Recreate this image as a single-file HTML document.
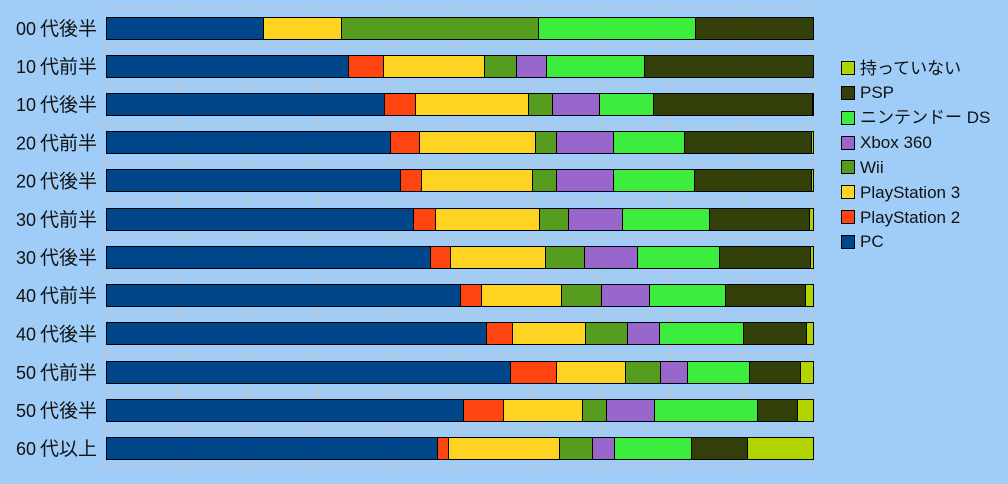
<!DOCTYPE html>
<html><head><meta charset="utf-8"><style>
html,body{margin:0;padding:0;background:#a0cdf7;}
svg{display:block;}
text{font-family:"Liberation Sans","Noto Sans CJK JP",sans-serif;fill:#111;}
</style></head><body>
<svg width="1008" height="484" viewBox="0 0 1008 484" xmlns="http://www.w3.org/2000/svg">
<rect width="1008" height="484" fill="#a0cdf7"/>
<g stroke="#bcc4cc" stroke-width="1">
<line x1="106.5" y1="9" x2="106.5" y2="468"/>
<line x1="177" y1="9" x2="177" y2="468"/>
<line x1="247.5" y1="9" x2="247.5" y2="468"/>
<line x1="318.5" y1="9" x2="318.5" y2="468"/>
<line x1="389" y1="9" x2="389" y2="468"/>
<line x1="459.5" y1="9" x2="459.5" y2="468"/>
<line x1="530.5" y1="9" x2="530.5" y2="468"/>
<line x1="601" y1="9" x2="601" y2="468"/>
<line x1="671.5" y1="9" x2="671.5" y2="468"/>
<line x1="742.5" y1="9" x2="742.5" y2="468"/>
<line x1="813" y1="9" x2="813" y2="468"/>
<line x1="100" y1="9.5" x2="813" y2="9.5"/>
<line x1="100" y1="47.5" x2="813" y2="47.5"/>
<line x1="100" y1="85.5" x2="813" y2="85.5"/>
<line x1="100" y1="124.5" x2="813" y2="124.5"/>
<line x1="100" y1="162.5" x2="813" y2="162.5"/>
<line x1="100" y1="200.5" x2="813" y2="200.5"/>
<line x1="100" y1="238.5" x2="813" y2="238.5"/>
<line x1="100" y1="276.5" x2="813" y2="276.5"/>
<line x1="100" y1="315.5" x2="813" y2="315.5"/>
<line x1="100" y1="353.5" x2="813" y2="353.5"/>
<line x1="100" y1="391.5" x2="813" y2="391.5"/>
<line x1="100" y1="429.5" x2="813" y2="429.5"/>
<line x1="100" y1="467.5" x2="813" y2="467.5"/>
</g>
<g stroke="#000" stroke-width="1">
<g transform="translate(0,17.5)">
<rect x="106.5" y="0" width="157" height="22" fill="#00468a"/>
<rect x="263.5" y="0" width="78" height="22" fill="#ffd322"/>
<rect x="341.5" y="0" width="197" height="22" fill="#559c1f"/>
<rect x="538.5" y="0" width="157" height="22" fill="#3ded3d"/>
<rect x="695.5" y="0" width="118" height="22" fill="#333f08"/>
</g>
<g transform="translate(0,55.5)">
<rect x="106.5" y="0" width="242" height="22" fill="#00468a"/>
<rect x="348.5" y="0" width="35" height="22" fill="#ff4411"/>
<rect x="383.5" y="0" width="101" height="22" fill="#ffd322"/>
<rect x="484.5" y="0" width="32" height="22" fill="#559c1f"/>
<rect x="516.5" y="0" width="30" height="22" fill="#9966cc"/>
<rect x="546.5" y="0" width="98" height="22" fill="#3ded3d"/>
<rect x="644.5" y="0" width="169" height="22" fill="#333f08"/>
</g>
<g transform="translate(0,93.5)">
<rect x="106.5" y="0" width="278" height="22" fill="#00468a"/>
<rect x="384.5" y="0" width="31" height="22" fill="#ff4411"/>
<rect x="415.5" y="0" width="113" height="22" fill="#ffd322"/>
<rect x="528.5" y="0" width="24" height="22" fill="#559c1f"/>
<rect x="552.5" y="0" width="47" height="22" fill="#9966cc"/>
<rect x="599.5" y="0" width="54" height="22" fill="#3ded3d"/>
<rect x="653.5" y="0" width="159" height="22" fill="#333f08"/>
<rect x="812.5" y="0" width="1" height="22" fill="#b2d400"/>
</g>
<g transform="translate(0,131.5)">
<rect x="106.5" y="0" width="284" height="22" fill="#00468a"/>
<rect x="390.5" y="0" width="29" height="22" fill="#ff4411"/>
<rect x="419.5" y="0" width="116" height="22" fill="#ffd322"/>
<rect x="535.5" y="0" width="21" height="22" fill="#559c1f"/>
<rect x="556.5" y="0" width="57" height="22" fill="#9966cc"/>
<rect x="613.5" y="0" width="71" height="22" fill="#3ded3d"/>
<rect x="684.5" y="0" width="127" height="22" fill="#333f08"/>
<rect x="811.5" y="0" width="2" height="22" fill="#b2d400"/>
</g>
<g transform="translate(0,169.5)">
<rect x="106.5" y="0" width="294" height="22" fill="#00468a"/>
<rect x="400.5" y="0" width="21" height="22" fill="#ff4411"/>
<rect x="421.5" y="0" width="111" height="22" fill="#ffd322"/>
<rect x="532.5" y="0" width="24" height="22" fill="#559c1f"/>
<rect x="556.5" y="0" width="57" height="22" fill="#9966cc"/>
<rect x="613.5" y="0" width="81" height="22" fill="#3ded3d"/>
<rect x="694.5" y="0" width="117" height="22" fill="#333f08"/>
<rect x="811.5" y="0" width="2" height="22" fill="#b2d400"/>
</g>
<g transform="translate(0,208.5)">
<rect x="106.5" y="0" width="307" height="22" fill="#00468a"/>
<rect x="413.5" y="0" width="22" height="22" fill="#ff4411"/>
<rect x="435.5" y="0" width="104" height="22" fill="#ffd322"/>
<rect x="539.5" y="0" width="29" height="22" fill="#559c1f"/>
<rect x="568.5" y="0" width="54" height="22" fill="#9966cc"/>
<rect x="622.5" y="0" width="87" height="22" fill="#3ded3d"/>
<rect x="709.5" y="0" width="100" height="22" fill="#333f08"/>
<rect x="809.5" y="0" width="4" height="22" fill="#b2d400"/>
</g>
<g transform="translate(0,246.5)">
<rect x="106.5" y="0" width="324" height="22" fill="#00468a"/>
<rect x="430.5" y="0" width="20" height="22" fill="#ff4411"/>
<rect x="450.5" y="0" width="95" height="22" fill="#ffd322"/>
<rect x="545.5" y="0" width="39" height="22" fill="#559c1f"/>
<rect x="584.5" y="0" width="53" height="22" fill="#9966cc"/>
<rect x="637.5" y="0" width="82" height="22" fill="#3ded3d"/>
<rect x="719.5" y="0" width="91" height="22" fill="#333f08"/>
<rect x="810.5" y="0" width="3" height="22" fill="#b2d400"/>
</g>
<g transform="translate(0,284.5)">
<rect x="106.5" y="0" width="354" height="22" fill="#00468a"/>
<rect x="460.5" y="0" width="21" height="22" fill="#ff4411"/>
<rect x="481.5" y="0" width="80" height="22" fill="#ffd322"/>
<rect x="561.5" y="0" width="40" height="22" fill="#559c1f"/>
<rect x="601.5" y="0" width="48" height="22" fill="#9966cc"/>
<rect x="649.5" y="0" width="76" height="22" fill="#3ded3d"/>
<rect x="725.5" y="0" width="80" height="22" fill="#333f08"/>
<rect x="805.5" y="0" width="8" height="22" fill="#b2d400"/>
</g>
<g transform="translate(0,322.5)">
<rect x="106.5" y="0" width="380" height="22" fill="#00468a"/>
<rect x="486.5" y="0" width="26" height="22" fill="#ff4411"/>
<rect x="512.5" y="0" width="73" height="22" fill="#ffd322"/>
<rect x="585.5" y="0" width="42" height="22" fill="#559c1f"/>
<rect x="627.5" y="0" width="32" height="22" fill="#9966cc"/>
<rect x="659.5" y="0" width="84" height="22" fill="#3ded3d"/>
<rect x="743.5" y="0" width="63" height="22" fill="#333f08"/>
<rect x="806.5" y="0" width="7" height="22" fill="#b2d400"/>
</g>
<g transform="translate(0,361.5)">
<rect x="106.5" y="0" width="404" height="22" fill="#00468a"/>
<rect x="510.5" y="0" width="46" height="22" fill="#ff4411"/>
<rect x="556.5" y="0" width="69" height="22" fill="#ffd322"/>
<rect x="625.5" y="0" width="35" height="22" fill="#559c1f"/>
<rect x="660.5" y="0" width="27" height="22" fill="#9966cc"/>
<rect x="687.5" y="0" width="62" height="22" fill="#3ded3d"/>
<rect x="749.5" y="0" width="51" height="22" fill="#333f08"/>
<rect x="800.5" y="0" width="13" height="22" fill="#b2d400"/>
</g>
<g transform="translate(0,399.5)">
<rect x="106.5" y="0" width="357" height="22" fill="#00468a"/>
<rect x="463.5" y="0" width="40" height="22" fill="#ff4411"/>
<rect x="503.5" y="0" width="79" height="22" fill="#ffd322"/>
<rect x="582.5" y="0" width="24" height="22" fill="#559c1f"/>
<rect x="606.5" y="0" width="48" height="22" fill="#9966cc"/>
<rect x="654.5" y="0" width="103" height="22" fill="#3ded3d"/>
<rect x="757.5" y="0" width="40" height="22" fill="#333f08"/>
<rect x="797.5" y="0" width="16" height="22" fill="#b2d400"/>
</g>
<g transform="translate(0,437.5)">
<rect x="106.5" y="0" width="331" height="22" fill="#00468a"/>
<rect x="437.5" y="0" width="11" height="22" fill="#ff4411"/>
<rect x="448.5" y="0" width="111" height="22" fill="#ffd322"/>
<rect x="559.5" y="0" width="33" height="22" fill="#559c1f"/>
<rect x="592.5" y="0" width="22" height="22" fill="#9966cc"/>
<rect x="614.5" y="0" width="77" height="22" fill="#3ded3d"/>
<rect x="691.5" y="0" width="56" height="22" fill="#333f08"/>
<rect x="747.5" y="0" width="66" height="22" fill="#b2d400"/>
</g>
</g>
<g font-size="18" text-anchor="end">
<text x="97" y="35">00<tspan dx="4" font-size="19">代後半</tspan></text>
<text x="97" y="73">10<tspan dx="4" font-size="19">代前半</tspan></text>
<text x="97" y="111">10<tspan dx="4" font-size="19">代後半</tspan></text>
<text x="97" y="149.5">20<tspan dx="4" font-size="19">代前半</tspan></text>
<text x="97" y="187.5">20<tspan dx="4" font-size="19">代後半</tspan></text>
<text x="97" y="226">30<tspan dx="4" font-size="19">代前半</tspan></text>
<text x="97" y="264">30<tspan dx="4" font-size="19">代後半</tspan></text>
<text x="97" y="302">40<tspan dx="4" font-size="19">代前半</tspan></text>
<text x="97" y="340.5">40<tspan dx="4" font-size="19">代後半</tspan></text>
<text x="97" y="379">50<tspan dx="4" font-size="19">代前半</tspan></text>
<text x="97" y="417">50<tspan dx="4" font-size="19">代後半</tspan></text>
<text x="97" y="455">60<tspan dx="4" font-size="19">代以上</tspan></text>
</g>
<g stroke="#000" stroke-width="1">
<rect x="841.5" y="61.5" width="13" height="13" fill="#b2d400"/>
<rect x="841.5" y="86.5" width="13" height="13" fill="#333f08"/>
<rect x="841.5" y="111.5" width="13" height="13" fill="#3ded3d"/>
<rect x="841.5" y="136.5" width="13" height="13" fill="#9966cc"/>
<rect x="841.5" y="160.5" width="13" height="13" fill="#559c1f"/>
<rect x="841.5" y="185.5" width="13" height="13" fill="#ffd322"/>
<rect x="841.5" y="210.5" width="13" height="13" fill="#ff4411"/>
<rect x="841.5" y="235.5" width="13" height="13" fill="#00468a"/>
</g>
<g font-size="17">
<text x="860" y="74">持っていない</text>
<text x="860" y="98">PSP</text>
<text x="860" y="123">ニンテンドー DS</text>
<text x="860" y="148">Xbox 360</text>
<text x="860" y="173">Wii</text>
<text x="860" y="198">PlayStation 3</text>
<text x="860" y="223">PlayStation 2</text>
<text x="860" y="247">PC</text>
</g>
</svg>
</body></html>
